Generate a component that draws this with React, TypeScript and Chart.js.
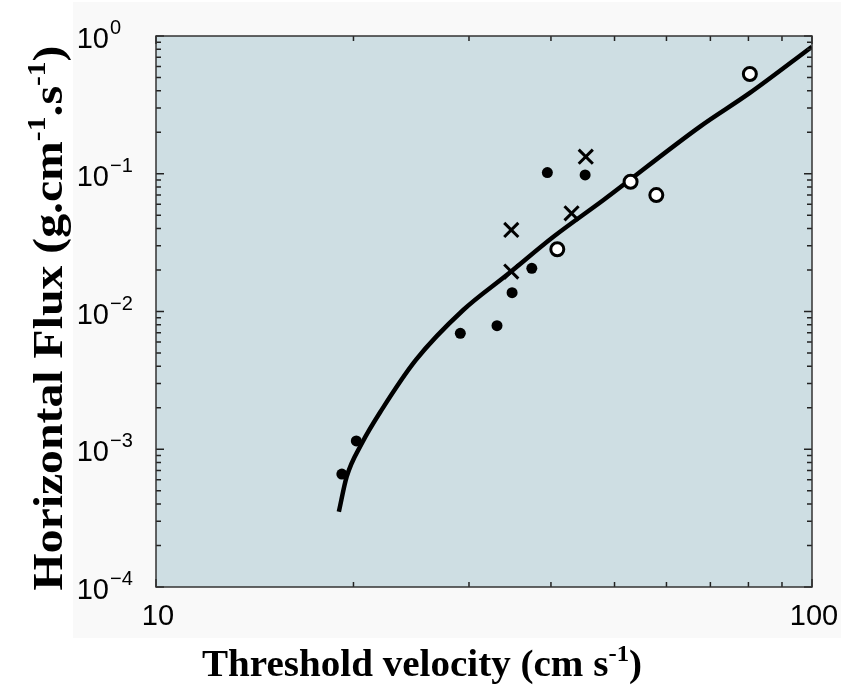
import { useEffect, useRef } from 'react';
import { Chart, registerables } from 'chart.js';

Chart.register(...registerables);

// ---- data ----
const curveVelocity = [19.0, 19.53, 20.59, 22.08, 24.9, 29.4, 34.25, 40.35, 48.1, 67.5, 80.4, 100];
const curveFlux = [3.52e-4, 6.32e-4, 1.1e-3, 1.93e-3, 4.45e-3, 0.01025, 0.0184, 0.0349, 0.0645, 0.22, 0.386, 0.836];

const dotVelocity = [19.2, 20.2, 29.1, 33.1, 34.9, 37.4, 39.5, 45.1];
const dotFlux = [6.6e-4, 1.15e-3, 6.95e-3, 7.89e-3, 0.0137, 0.0206, 0.102, 0.098];

const crossVelocity = [34.8, 34.8, 43.0, 45.2];
const crossFlux = [0.0195, 0.0391, 0.0516, 0.133];

const circleVelocity = [40.9, 52.9, 57.9, 80.4];
const circleFlux = [0.0283, 0.0875, 0.07, 0.53];

const xTickValues = [10, 100];
const xTickLabels = ['10', '100'];
const yTickValues = [1e-4, 1e-3, 1e-2, 1e-1, 1];
const yTickBase = '10';
const yTickExponents = ['\u22124', '\u22123', '\u22122', '\u22121', '0'];

const xTitle = [
  { t: 'Threshold velocity (cm s' },
  { t: '-1', sup: true },
  { t: ')' },
];
const yTitle = [
  { t: 'Horizontal Flux (g.cm' },
  { t: '-1', sup: true },
  { t: '.s' },
  { t: '-1', sup: true },
  { t: ')' },
];

type Seg = { t: string; sup?: boolean };

function toXY(xs: number[], ys: number[]) {
  return xs.map((x, i) => ({ x, y: ys[i] }));
}

function drawRich(
  ctx: CanvasRenderingContext2D,
  segs: Seg[],
  size: number,
  family: string,
  weight: string,
  x: number,
  y: number,
  rotate: boolean,
  target: number
) {
  ctx.save();
  ctx.translate(x, y);
  if (rotate) ctx.rotate(-Math.PI / 2);
  const base = `${weight} ${size}px ${family}`;
  const sup = `${weight} ${Math.round(size * 0.62)}px ${family}`;
  const widths = segs.map((s) => {
    ctx.font = s.sup ? sup : base;
    return ctx.measureText(s.t).width;
  });
  const total = widths.reduce((a, b) => a + b, 0);
  const sx = target > 0 ? target / total : 1;
  ctx.scale(sx, 1);
  ctx.textBaseline = 'alphabetic';
  ctx.textAlign = 'left';
  ctx.fillStyle = '#000';
  let pos = -total / 2;
  segs.forEach((s, i) => {
    ctx.font = s.sup ? sup : base;
    ctx.fillText(s.t, pos, s.sup ? -size * 0.4 : 0);
    pos += widths[i];
  });
  ctx.restore();
}

const decorPlugin = {
  id: 'decor',
  beforeDraw(chart: any) {
    const { ctx, chartArea: a, width, height } = chart;
    ctx.save();
    ctx.fillStyle = '#ffffff';
    ctx.fillRect(0, 0, width, height);
    ctx.fillStyle = '#f9f9f9';
    ctx.fillRect(73, 2, width - 73, 636);
    ctx.fillStyle = 'rgb(206,222,227)';
    ctx.fillRect(a.left, a.top, a.right - a.left, a.bottom - a.top);
    ctx.restore();
  },
  afterDraw(chart: any) {
    const { ctx, chartArea: a } = chart;
    const xs = chart.scales.x;
    const ys = chart.scales.y;
    ctx.save();
    ctx.strokeStyle = '#222';
    ctx.lineWidth = 1.5;
    // x ticks (inward, bottom and top)
    for (let v = 10; v <= 100; v += 10) {
      const px = xs.getPixelForValue(v);
      const len = v === 10 || v === 100 ? 8 : 5;
      ctx.beginPath();
      ctx.moveTo(px, a.bottom);
      ctx.lineTo(px, a.bottom - len);
      ctx.moveTo(px, a.top);
      ctx.lineTo(px, a.top + len);
      ctx.stroke();
    }
    // y ticks (inward, left and right)
    const yv: { v: number; major: boolean }[] = [];
    for (let d = -4; d <= -1; d++) {
      for (let m = 1; m <= 9; m++) yv.push({ v: m * Math.pow(10, d), major: m === 1 });
    }
    yv.push({ v: 1, major: true });
    yv.forEach(({ v, major }) => {
      const py = ys.getPixelForValue(v);
      const len = major ? 8 : 5;
      ctx.beginPath();
      ctx.moveTo(a.left, py);
      ctx.lineTo(a.left + len, py);
      ctx.moveTo(a.right, py);
      ctx.lineTo(a.right - len, py);
      ctx.stroke();
    });
    // frame
    ctx.strokeStyle = '#333';
    ctx.lineWidth = 1.5;
    ctx.strokeRect(a.left, a.top, a.right - a.left, a.bottom - a.top);

    // tick labels
    ctx.fillStyle = '#000';
    ctx.textBaseline = 'alphabetic';
    ctx.font = '29px "Liberation Sans", Arial, sans-serif';
    ctx.textAlign = 'center';
    xTickValues.forEach((v, i) => {
      ctx.fillText(xTickLabels[i], xs.getPixelForValue(v) + 2, a.bottom + 38);
    });
    yTickValues.forEach((v, i) => {
      const py = ys.getPixelForValue(v);
      ctx.font = '29px "Liberation Sans", Arial, sans-serif';
      ctx.textAlign = 'right';
      ctx.fillText(yTickBase, 109, py + 12);
      ctx.font = '20px "Liberation Sans", Arial, sans-serif';
      ctx.textAlign = 'left';
      ctx.fillText(yTickExponents[i], 110, py - 2);
    });

    // axis titles
    const serif = '"Liberation Serif", "Times New Roman", serif';
    drawRich(ctx, xTitle, 38, serif, 'bold', 422, 676, false, 440);
    drawRich(ctx, yTitle, 42, serif, 'bold', 62, 318, true, 545);
    ctx.restore();
  },
};

export default function App() {
  const ref = useRef<HTMLCanvasElement | null>(null);
  useEffect(() => {
    if (!ref.current) return;
    const chart = new Chart(ref.current, {
      type: 'scatter',
      data: {
        datasets: [
          {
            label: 'Model',
            data: toXY(curveVelocity, curveFlux),
            showLine: true,
            borderColor: '#000',
            borderWidth: 4.5,
            pointRadius: 0,
            cubicInterpolationMode: 'monotone',
            order: 4,
          } as any,
          {
            label: 'Filled',
            data: toXY(dotVelocity, dotFlux),
            pointStyle: 'circle',
            pointRadius: 5.5,
            backgroundColor: '#000',
            borderColor: '#000',
            borderWidth: 0,
            order: 1,
          },
          {
            label: 'Cross',
            data: toXY(crossVelocity, crossFlux),
            pointStyle: 'crossRot',
            pointRadius: 10,
            borderColor: '#000',
            borderWidth: 3,
            order: 1,
          },
          {
            label: 'Open',
            data: toXY(circleVelocity, circleFlux),
            pointStyle: 'circle',
            pointRadius: 6.5,
            backgroundColor: '#fff',
            borderColor: '#000',
            borderWidth: 3,
            order: 1,
          },
        ],
      },
      options: {
        animation: false,
        responsive: false,
        layout: { padding: { left: 156, top: 36, right: 29, bottom: 100 } },
        plugins: { legend: { display: false }, tooltip: { enabled: false } },
        scales: {
          x: { type: 'logarithmic', min: 10, max: 100, display: false },
          y: { type: 'logarithmic', min: 1e-4, max: 1, display: false },
        },
      },
      plugins: [decorPlugin],
    });
    return () => chart.destroy();
  }, []);
  return (
    <div style={{ position: 'absolute', left: 0, top: 0, width: 841, height: 687 }}>
      <canvas ref={ref} width={841} height={687} />
    </div>
  );
}
